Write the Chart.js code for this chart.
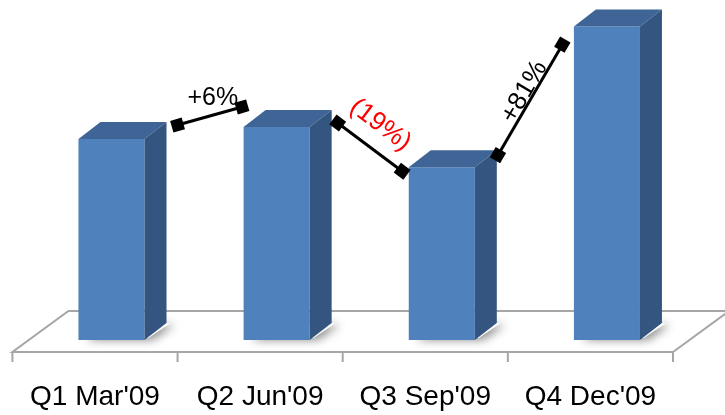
<!DOCTYPE html>
<html>
<head>
<meta charset="utf-8">
<script src="https://cdn.jsdelivr.net/npm/chart.js@4"></script>
<style>
  html, body { margin: 0; padding: 0; background: #ffffff; }
  #wrap { width: 725px; height: 415px; }
</style>
</head>
<body>
<div id="wrap"><canvas id="myChart" width="725" height="415"></canvas></div>
<script>
// Quarterly values (relative, no axis shown)
const categories = ["Q1 Mar'09", "Q2 Jun'09", "Q3 Sep'09", "Q4 Dec'09"];
const values = [100, 106, 86, 156];

// Change connectors between bars (x in category units, y in value units)
const changeLabels = ['+6%', '(19%)', '+81%'];
const connectorX = [[0.40, 0.79], [1.37, 1.76], [2.34, 2.73]];
const connectorY = [[107, 116], [108, 84], [92, 147]];

// Colours / styles
const frontColor = '#4f81bd';
const topColor = '#3e6595';
const sideColor = '#34557f';
const floorColor = '#a6a6a6';
const changeColors = ['#000000', '#ff0000', '#000000'];
const markerRotation = [-16, 37, -60];
const labelRotate = [false, true, true];
const labelOffset = [[3, -18], [-5, -24], [4, -9]];
const depthX = 22, depthY = 17;

// Floor, tick marks and soft shadows below the bars
const floorPlugin = {
    id: 'floor',
    beforeDatasetsDraw(chart) {
        const ctx = chart.ctx;
        const area = chart.chartArea;
        const fL = area.left - 16.5, fR = area.right - 16.5, fY = area.bottom + 12;
        const bL = area.left + 39.5, bR = area.right + 39.5, bY = area.bottom - 29;
        ctx.save();
        ctx.fillStyle = '#ffffff';
        ctx.strokeStyle = floorColor;
        ctx.lineWidth = 2;
        ctx.beginPath();
        ctx.moveTo(fL, fY);
        ctx.lineTo(fR, fY);
        ctx.lineTo(bR, bY);
        ctx.lineTo(bL, bY);
        ctx.closePath();
        ctx.fill();
        ctx.stroke();
        // tick marks along the front edge
        const step = (fR - fL) / categories.length;
        for (let i = 0; i <= categories.length; i++) {
            const tx = fL + i * step;
            ctx.beginPath();
            ctx.moveTo(tx, fY);
            ctx.lineTo(tx, fY + 10);
            ctx.stroke();
        }
        // shadows
        const bars = chart.getDatasetMeta(0).data;
        bars.forEach(function(bar) {
            const p = bar.getProps(['x', 'base', 'width'], true);
            const l = p.x - p.width / 2, r = p.x + p.width / 2;
            ctx.save();
            ctx.shadowColor = 'rgba(0,0,0,0.45)';
            ctx.shadowBlur = 10;
            ctx.shadowOffsetX = 4;
            ctx.shadowOffsetY = 2;
            ctx.fillStyle = '#ffffff';
            ctx.beginPath();
            ctx.moveTo(l + 4, p.base - 2);
            ctx.lineTo(r + 4, p.base - 2);
            ctx.lineTo(r + depthX + 4, p.base - depthY);
            ctx.lineTo(l + depthX, p.base - depthY);
            ctx.closePath();
            ctx.fill();
            ctx.restore();
        });
        ctx.restore();
    }
};

// Top and side faces of each bar
const cubePlugin = {
    id: 'cube',
    afterDatasetDraw(chart, args) {
        if (args.index !== 0) return;
        const ctx = chart.ctx;
        args.meta.data.forEach(function(bar) {
            const p = bar.getProps(['x', 'y', 'base', 'width'], true);
            const l = p.x - p.width / 2, r = p.x + p.width / 2;
            ctx.save();
            ctx.fillStyle = topColor;
            ctx.beginPath();
            ctx.moveTo(l, p.y);
            ctx.lineTo(l + depthX, p.y - depthY);
            ctx.lineTo(r + depthX, p.y - depthY);
            ctx.lineTo(r, p.y);
            ctx.closePath();
            ctx.fill();
            ctx.fillStyle = sideColor;
            ctx.beginPath();
            ctx.moveTo(r, p.y);
            ctx.lineTo(r + depthX, p.y - depthY);
            ctx.lineTo(r + depthX, p.base - depthY);
            ctx.lineTo(r, p.base);
            ctx.closePath();
            ctx.fill();
            ctx.restore();
        });
    }
};

// Percentage labels beside each connector
const changeLabelPlugin = {
    id: 'changeLabels',
    afterDatasetsDraw(chart) {
        const ctx = chart.ctx;
        changeLabels.forEach(function(text, i) {
            const pts = chart.getDatasetMeta(i + 1).data;
            const a = pts[0], b = pts[1];
            const mx = (a.x + b.x) / 2, my = (a.y + b.y) / 2;
            const ang = Math.atan2(b.y - a.y, b.x - a.x);
            ctx.save();
            ctx.translate(mx, my);
            if (labelRotate[i]) ctx.rotate(ang);
            ctx.font = (i === 0 ? '25px' : '26px') + ' "Liberation Sans", Arial, sans-serif';
            ctx.fillStyle = changeColors[i];
            ctx.textAlign = 'center';
            ctx.textBaseline = 'middle';
            ctx.fillText(text, labelOffset[i][0], labelOffset[i][1]);
            ctx.restore();
        });
    }
};

const connectorSets = changeLabels.map(function(lbl, i) {
    return {
        type: 'line',
        label: lbl,
        xAxisID: 'x2',
        data: [
            { x: connectorX[i][0], y: connectorY[i][0] },
            { x: connectorX[i][1], y: connectorY[i][1] }
        ],
        borderColor: '#000000',
        borderWidth: 3,
        pointStyle: 'rect',
        rotation: markerRotation[i],
        pointRadius: 8.5,
        pointBackgroundColor: '#000000',
        pointBorderColor: '#000000',
        pointBorderWidth: 0,
        fill: false,
        order: 0
    };
});

const ctx = document.getElementById('myChart').getContext('2d');
const myChart = new Chart(ctx, {
    type: 'bar',
    data: {
        labels: categories,
        datasets: [
            {
                label: 'Value',
                data: values,
                backgroundColor: frontColor,
                borderWidth: 0,
                grouped: false,
                categoryPercentage: 1,
                barPercentage: 0.4,
                order: 1
            }
        ].concat(connectorSets)
    },
    options: {
        responsive: false,
        animation: false,
        layout: { padding: { left: 28.5, right: 35.5, top: 5, bottom: 0 } },
        plugins: {
            legend: { display: false },
            tooltip: { enabled: false }
        },
        scales: {
            x: {
                grid: { display: false, drawTicks: false },
                border: { display: false },
                afterFit: function(scale) {
                    // keep the value baseline at the bars' foot
                    scale.height = 75;
                },
                ticks: {
                    color: '#000000',
                    font: { family: '"Liberation Sans", Arial, sans-serif', size: 28, lineHeight: 1 },
                    padding: 43,
                    labelOffset: -16.5,
                    maxRotation: 0,
                    autoSkip: false
                }
            },
            x2: {
                type: 'linear',
                display: false,
                offset: false,
                min: -0.5,
                max: 3.5
            },
            y: {
                display: false,
                min: 0,
                max: 165
            }
        }
    },
    plugins: [floorPlugin, cubePlugin, changeLabelPlugin]
});
</script>
</body>
</html>
